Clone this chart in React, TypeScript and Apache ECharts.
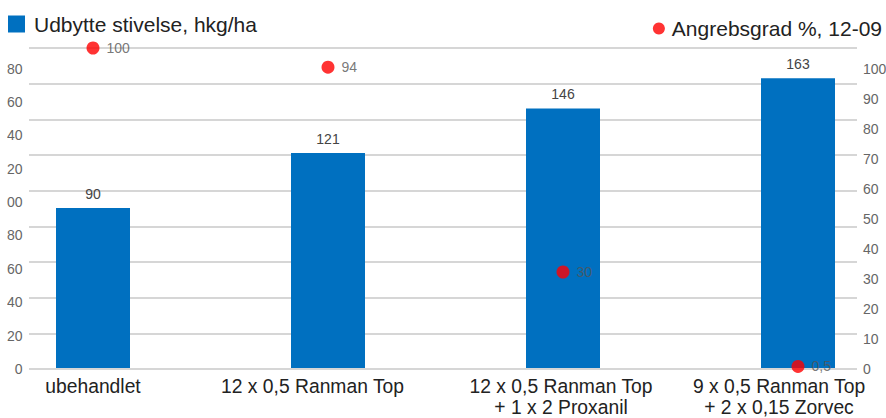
import React, { useEffect, useRef } from 'react';
import * as echarts from 'echarts';

const categories = [
  'ubehandlet',
  '12 x 0,5 Ranman Top',
  '12 x 0,5 Ranman Top\n+ 1 x 2 Proxanil',
  '9 x 0,5 Ranman Top\n+ 2 x 0,15 Zorvec',
];
const yieldValues = [90, 121, 146, 163];
const attackValues = [100, 94, 30, 0.5];
const barName = 'Udbytte stivelse, hkg/ha';
const dotName = 'Angrebsgrad %, 12-09';

const OFF = 60;
const W = 886 + 2 * OFF;
const CLIP = 7;

export default function App() {
  const ref = useRef<HTMLDivElement>(null);
  useEffect(() => {
    const chart = echarts.init(ref.current!, null, { renderer: 'svg' });
    const font = '"Liberation Sans", Arial, sans-serif';
    const shifts = [0, 31, 4, 38];
    const option: any = {
      animation: false,
      textStyle: { fontFamily: font },
      legend: [
        {
          data: [barName], left: OFF + 3, top: 8.5, icon: 'rect', itemWidth: 17, itemHeight: 17,
          textStyle: { fontSize: 21, color: '#222', fontFamily: font, padding: [0, 0, 0, 4] },
        },
        {
          data: [dotName], right: OFF - 1, top: 13, icon: 'circle', itemWidth: 12, itemHeight: 12,
          textStyle: { fontSize: 21, color: '#222', fontFamily: font, padding: [0, 0, 0, 2] },
        },
      ],
      grid: [
        { left: OFF - 24.5, right: OFF - 29.5, top: 48, bottom: 49 },
        { left: OFF + 29, right: OFF + 29, top: 48, bottom: 49 },
        { left: OFF + 29, right: OFF + 29, top: 68.5, bottom: 49 },
      ],
      xAxis: [
        {
          type: 'category', gridIndex: 0,
          data: categories.map((c, i) => ({ value: c, textStyle: { padding: [0, shifts[i], 0, 0] } })),
          axisLine: { show: false }, axisTick: { show: false },
          axisLabel: { fontSize: 19.3, color: '#222', lineHeight: 21, margin: 8, interval: 0, fontFamily: font },
        },
        { type: 'value', gridIndex: 1, show: false, min: 0, max: 1 },
        { type: 'value', gridIndex: 2, show: false, min: 0, max: 1 },
      ],
      yAxis: [
        { type: 'value', gridIndex: 0, min: 0, max: 180, interval: 20, show: false },
        { type: 'value', gridIndex: 0, min: 0, max: 100, interval: 10, show: false },
        {
          type: 'value', gridIndex: 1, min: 0, max: 180, interval: 20,
          axisLabel: { show: false }, axisLine: { show: false }, axisTick: { show: false },
          splitLine: { show: true, lineStyle: { color: '#c8c8c8', width: 1.5 } },
        },
        {
          type: 'value', gridIndex: 2, position: 'left', min: 0, max: 180, interval: 20,
          axisLine: { show: false }, axisTick: { show: false }, splitLine: { show: false },
          axisLabel: { fontSize: 14, color: '#666', margin: 6.5, fontFamily: font },
        },
        {
          type: 'value', gridIndex: 2, position: 'right', min: 0, max: 100, interval: 10,
          axisLine: { show: false }, axisTick: { show: false }, splitLine: { show: false },
          axisLabel: { fontSize: 14, color: '#666', margin: 6, fontFamily: font },
        },
      ],
      series: [
        {
          name: barName, type: 'bar', xAxisIndex: 0, yAxisIndex: 0, data: yieldValues, barWidth: 74,
          itemStyle: { color: '#0070c0' },
          label: { show: true, position: 'top', distance: 7, fontSize: 14, color: '#444', fontFamily: font },
        },
        {
          name: dotName, type: 'scatter', xAxisIndex: 0, yAxisIndex: 1, data: attackValues,
          symbolSize: 13, clip: false, z: 5, itemStyle: { color: '#ff0000' },
          label: {
            show: true, position: 'right', distance: 7, fontSize: 14, color: '#555', fontFamily: font,
            formatter: (p: any) => String(p.value).replace('.', ','),
          },
        },
      ],
    };
    chart.setOption(option);
    return () => chart.dispose();
  }, []);
  return (
    <div style={{ position: 'fixed', left: 0, top: 0, width: 886, height: 418, background: '#fff' }}>
      <div style={{ position: 'absolute', left: CLIP, top: 0, width: 886 - CLIP, height: 418, overflow: 'hidden' }}>
        <div ref={ref} style={{ position: 'absolute', left: -OFF - CLIP, top: 0, width: W, height: 418 }} />
      </div>
    </div>
  );
}
